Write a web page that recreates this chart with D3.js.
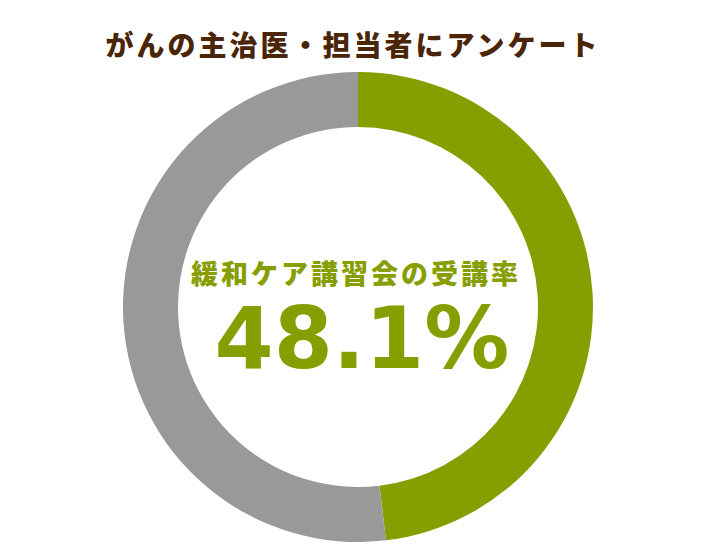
<!DOCTYPE html>
<html>
<head>
<meta charset="utf-8">
<script src="https://cdn.jsdelivr.net/npm/d3@7"></script>
<style>
  body { margin: 0; background: #fff; }
</style>
</head>
<body>
<svg id="chart" width="726" height="545"></svg>
<script>
// data
var labels = ["受講", "未受講"];
var values = [48.1, 51.9];
var colors = ["#879E00", "#999999"];
var title = "がんの主治医・担当者にアンケート";
var centerLabel = "緩和ケア講習会の受講率";

var svg = d3.select("#chart"),
    cx = 358, cy = 307,
    outerR = 235, innerR = 180;

var pie = d3.pie().sort(null).value(d => d);
var arc = d3.arc().innerRadius(innerR).outerRadius(outerR);

var g = svg.append("g")
  .attr("transform", `translate(${cx},${cy})`);

g.selectAll("path")
  .data(pie(values))
  .enter().append("path")
  .attr("d", arc)
  .attr("fill", (d, i) => colors[i]);

// title
svg.append("text")
  .attr("x", 353)
  .attr("y", 56)
  .attr("text-anchor", "middle")
  .attr("font-family", "Noto Sans CJK JP")
  .attr("font-weight", "900")
  .attr("font-size", "28px")
  .attr("letter-spacing", "3px")
  .attr("fill", "#4A2508")
  .text(title);

// center labels
svg.append("text")
  .attr("x", 356)
  .attr("y", 284)
  .attr("text-anchor", "middle")
  .attr("font-family", "Noto Sans CJK JP")
  .attr("font-weight", "900")
  .attr("font-size", "27px")
  .attr("letter-spacing", "3px")
  .attr("fill", "#879E00")
  .text(centerLabel);

svg.append("text")
  .attr("x", 362)
  .attr("y", 368)
  .attr("text-anchor", "middle")
  .attr("font-family", "DejaVu Sans")
  .attr("font-weight", "bold")
  .attr("font-size", "85px")
  .attr("fill", "#879E00")
  .text(d3.format(".1f")(values[0]) + "%");
</script>
</body>
</html>
